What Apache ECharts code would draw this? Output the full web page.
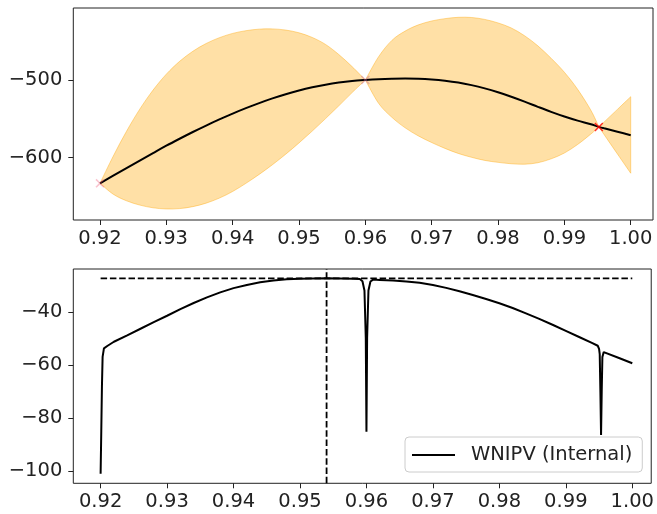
<!DOCTYPE html>
<html><head><meta charset="utf-8">
<script src="https://cdn.jsdelivr.net/npm/echarts@6/dist/echarts.min.js"></script>
<style>html,body{margin:0;padding:0;background:#fff}#c{width:657px;height:514px}</style>
</head><body><div id="c"></div>
<script>
// ---- data ----
const xs = [0.920,0.922,0.924,0.926,0.928,0.930,0.932,0.934,0.936,0.938,0.940,0.942,0.944,0.946,0.948,0.950,0.952,0.954,0.956,0.958,0.960,0.962,0.964,0.966,0.968,0.970,0.972,0.974,0.976,0.978,0.980,0.982,0.984,0.986,0.988,0.990,0.992,0.994,0.9952,0.996,0.998,1.000];
const meanTop = [-633,-623.2,-613.4,-603.7,-594.1,-584.6,-575.6,-566.9,-558.6,-550.7,-543.2,-536.2,-529.7,-523.7,-518.3,-513.5,-509.4,-506,-503.3,-501.3,-500,-499,-498.4,-498.1,-498.3,-499.2,-500.8,-503.2,-506.6,-510.8,-515.8,-521.5,-527.8,-534.5,-541,-547,-552.3,-557,-560.3,-562.2,-566.6,-571];
const upperTop = [-633,-598,-566,-537.5,-513,-492.5,-476,-463,-453,-445.5,-440,-436.5,-434.5,-434.2,-435.7,-439.2,-445.2,-454.2,-467.2,-482.7,-500,-470,-449,-437,-429,-424,-421,-419.3,-419.5,-422,-426.5,-433,-443,-456,-472,-490,-512,-539,-560.3,-554,-537.8,-521.5];
const lowerTop = [-633,-647,-655.5,-661,-664.5,-666,-665.5,-663,-658.5,-652,-643.5,-633,-621.5,-609,-595.5,-581,-565.7,-549.7,-533.2,-516.2,-500,-530,-548,-561.5,-572,-580.5,-588,-594.5,-599.5,-603.5,-606,-607.8,-608.4,-606.5,-601.5,-594,-583,-569.5,-560.3,-570.4,-595.2,-620];
const sampleX = [0.92, 0.96, 0.9952];
const sampleY = [-633, -500, -560.5];

const wnipvX = [0.9200,0.9201,0.9202,0.9203,0.9205,0.9210,0.922,0.924,0.926,0.928,0.930,0.932,0.934,0.936,0.938,0.940,0.942,0.944,0.946,0.948,0.950,0.952,0.954,0.956,0.958,0.959,0.9594,0.9597,0.9599,0.9600,0.9601,0.9603,0.9606,0.961,0.962,0.964,0.966,0.968,0.970,0.972,0.974,0.976,0.978,0.980,0.982,0.984,0.986,0.988,0.990,0.992,0.994,0.9948,0.9950,0.9951,0.9952,0.9953,0.9954,0.9955,0.9957,0.9960,0.998,1.000];
const wnipvY = [-101,-85,-68,-57,-53.8,-52.9,-51.3,-48.9,-46.4,-43.9,-41.5,-39.0,-36.7,-34.6,-32.7,-31.1,-29.9,-28.9,-28.2,-27.8,-27.6,-27.45,-27.4,-27.45,-27.6,-27.7,-28.5,-32,-50,-85.2,-50,-32,-28.6,-27.9,-28.0,-28.25,-28.6,-29.1,-29.9,-31.0,-32.3,-33.7,-35.2,-36.8,-38.6,-40.6,-42.7,-44.9,-47.2,-49.5,-51.8,-52.8,-54.0,-56,-70,-86.4,-70,-57,-55.2,-55.4,-57.4,-59.4];
const bestX = 0.954;
const bestY = -27.4;

const xTicks = [0.92,0.93,0.94,0.95,0.96,0.97,0.98,0.99,1.00];
const yTicksTop = [-600,-500];
const yTicksBottom = [-100,-80,-60,-40];

// ---- chart ----
const FONT = 'DejaVu Sans';
const minus = v => (v < 0 ? '\u2212' : '') + Math.abs(v);
function xAxisCfg(idx, min, max) {
  return {
    type: 'value', gridIndex: idx, min: min, max: max,
    axisLine: {show: false},
    splitLine: {show: false},
    axisTick: {show: true, customValues: xTicks, length: 5, lineStyle: {color: '#222', width: 1}},
    axisLabel: {customValues: xTicks, formatter: v => v.toFixed(2), color: '#222', fontFamily: FONT, fontSize: 19.5, margin: 9}
  };
}
function yAxisCfg(idx, min, max, ticks) {
  return {
    type: 'value', gridIndex: idx, min: min, max: max,
    axisLine: {show: false},
    splitLine: {show: false},
    axisTick: {show: true, customValues: ticks, length: 5, lineStyle: {color: '#222', width: 1}},
    axisLabel: {customValues: ticks, formatter: minus, color: '#222', fontFamily: FONT, fontSize: 19.5, margin: 11}
  };
}
const sampleColors = ['rgba(240,90,120,0.45)', 'rgba(200,110,150,0.55)', 'rgba(255,0,0,1)'];
const xShape = 'path://M0,1.2 L1.2,0 L5,3.8 L8.8,0 L10,1.2 L6.2,5 L10,8.8 L8.8,10 L5,6.2 L1.2,10 L0,8.8 L3.8,5 Z';

// Catmull-Rom -> cubic bezier path commands through pixel points (rendering only)
function splineCmds(P) {
  let s = '';
  const n = P.length;
  for (let i = 0; i < n - 1; i++) {
    const p0 = P[Math.max(i - 1, 0)], p1 = P[i], p2 = P[i + 1], p3 = P[Math.min(i + 2, n - 1)];
    const c1 = [p1[0] + (p2[0] - p0[0]) / 6, p1[1] + (p2[1] - p0[1]) / 6];
    const c2 = [p2[0] - (p3[0] - p1[0]) / 6, p2[1] - (p3[1] - p1[1]) / 6];
    s += ' C' + c1[0] + ',' + c1[1] + ' ' + c2[0] + ',' + c2[1] + ' ' + p2[0] + ',' + p2[1];
  }
  return s;
}

const chart = echarts.init(document.getElementById('c'), null, {renderer: 'canvas'});
chart.setOption({
  animation: false,
  backgroundColor: '#fff',
  grid: [
    {left: 73.3, right: 4, top: 8, height: 212, show: true, borderColor: '#222', borderWidth: 1, backgroundColor: 'transparent'},
    {left: 73.3, right: 4, top: 269, height: 214.3, show: true, borderColor: '#222', borderWidth: 1, backgroundColor: 'transparent'}
  ],
  xAxis: [xAxisCfg(0, 0.91598, 1.00336), xAxisCfg(1, 0.91589, 1.00285)],
  yAxis: [yAxisCfg(0, -680.2, -407.3, yTicksTop), yAxisCfg(1, -104.6, -23.9, yTicksBottom)],
  legend: {
    data: [{name: 'WNIPV (Internal)', icon: 'rect'}],
    left: 405, top: 437,
    padding: [8, 10, 7, 7],
    itemWidth: 43, itemHeight: 2,
    itemStyle: {color: '#000'},
    backgroundColor: 'rgba(255,255,255,0.8)',
    borderColor: '#cccccc', borderWidth: 1, borderRadius: 4,
    textStyle: {fontFamily: FONT, fontSize: 19.5, color: '#222', padding: [0, 0, 0, 11]}
  },
  series: [
    {
      type: 'custom', xAxisIndex: 0, yAxisIndex: 0, clip: true, silent: true, z: 1,
      data: [[0.96, -500]],
      renderItem: (params, api) => {
        // lobes between the points where the band closes (upper == lower)
        const nodes = [];
        for (let i = 0; i < xs.length; i++) if (upperTop[i] === lowerTop[i]) nodes.push(i);
        if (nodes[nodes.length - 1] !== xs.length - 1) nodes.push(xs.length - 1);
        let d = '';
        for (let k = 0; k < nodes.length - 1; k++) {
          const s = nodes[k], e = nodes[k + 1];
          const up = [], lo = [];
          for (let i = s; i <= e; i++) up.push(api.coord([xs[i], upperTop[i]]));
          for (let i = e; i >= s; i--) lo.push(api.coord([xs[i], lowerTop[i]]));
          d += 'M' + up[0][0] + ',' + up[0][1] + splineCmds(up) + ' L' + lo[0][0] + ',' + lo[0][1] + splineCmds(lo) + ' Z ';
        }
        return {type: 'path', shape: {pathData: d}, style: {fill: 'rgba(255,165,0,0.35)', stroke: 'rgba(255,165,0,0.4)', lineWidth: 1}};
      }
    },
    {
      name: 'mean', type: 'line', xAxisIndex: 0, yAxisIndex: 0, z: 2,
      data: xs.map((x, i) => [x, meanTop[i]]),
      symbol: 'none', smooth: 0.35,
      lineStyle: {color: '#000', width: 2}
    },
    {
      name: 'samples', type: 'scatter', xAxisIndex: 0, yAxisIndex: 0, z: 3,
      symbol: xShape, symbolSize: 9,
      data: sampleX.map((x, i) => ({value: [x, sampleY[i]], itemStyle: {color: sampleColors[i]}}))
    },
    {
      name: 'WNIPV (Internal)', type: 'line', xAxisIndex: 1, yAxisIndex: 1, z: 2,
      data: wnipvX.map((x, i) => [x, wnipvY[i]]),
      symbol: 'none', smooth: false,
      lineStyle: {color: '#000', width: 2},
      itemStyle: {color: '#000'}
    },
    {
      name: 'bestLevel', type: 'line', xAxisIndex: 1, yAxisIndex: 1, z: 2,
      data: [[0.92, bestY], [1.00, bestY]],
      symbol: 'none',
      lineStyle: {color: '#000', type: [6.5, 2.8], width: 1.8}
    },
    {
      name: 'bestX', type: 'line', xAxisIndex: 1, yAxisIndex: 1, z: 2,
      data: [[bestX, -104.6], [bestX, -23.9]],
      symbol: 'none',
      lineStyle: {color: '#000', type: [6.5, 2.8], width: 1.8}
    }
  ]
});
</script>
</body></html>
